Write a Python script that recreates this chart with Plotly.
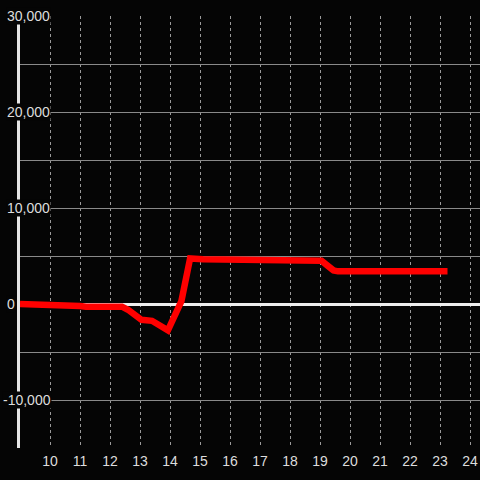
import plotly.graph_objects as go

# data
hours = [9.0, 10.0, 11.0, 11.2, 12.4, 12.6, 13.05, 13.4, 13.93, 14.38, 14.67, 15.1, 18.9, 19.05, 19.25, 19.45, 19.6, 23.25]
values = [0, -50, -200, -280, -280, -600, -1650, -1750, -2750, 300, 4750, 4650, 4650, 4500, 4000, 3500, 3400, 3400]
x_ticks = list(range(10, 25))
y_tick_vals = [30000, 20000, 10000, 0, -10000]
y_tick_text = ["30,000", "20,000", "10,000", "0", "-10,000"]

BG = "#050505"
FONT = "Liberation Sans, Arial, sans-serif"

fig = go.Figure()
fig.add_trace(go.Scatter(x=hours, y=values, mode="lines",
                         line=dict(color="#ff0000", width=6.5), hoverinfo="skip"))

fig.update_layout(
    width=480, height=480,
    margin=dict(l=20, r=0, t=16, b=32),
    paper_bgcolor=BG, plot_bgcolor=BG,
    showlegend=False,
    font=dict(family=FONT, size=14, color="#dddddd"),
)
fig.update_xaxes(
    range=[9, 24.333], tickvals=x_ticks, ticktext=[str(t) for t in x_ticks],
    showgrid=True, gridcolor="#9a9a9a", gridwidth=1, griddash="dot",
    zeroline=False, showline=False, ticks="", ticklabelstandoff=3,
    tickfont=dict(family=FONT, size=14, color="#dddddd"),
)
fig.update_yaxes(
    range=[-15000, 30000], dtick=5000, tick0=0,
    showgrid=True, gridcolor="#8a8a8a", gridwidth=1,
    zeroline=True, zerolinecolor="#eeeeee", zerolinewidth=3,
    showline=True, linecolor="#e6e6e6", linewidth=3,
    showticklabels=False, ticks="",
)
for v, t in zip(y_tick_vals, y_tick_text):
    fig.add_annotation(
        x=0, xref="paper", xanchor="left", xshift=-18 if v < 0 else -14,
        y=v, yref="y", yanchor="middle",
        text=t, showarrow=False, bgcolor=BG, borderpad=0,
        font=dict(family=FONT, size=14, color="#dddddd"),
    )

fig.write_html("out.html", config={"displayModeBar": False},
               post_script="document.body.style.margin='0';document.body.style.background='%s';" % BG)
